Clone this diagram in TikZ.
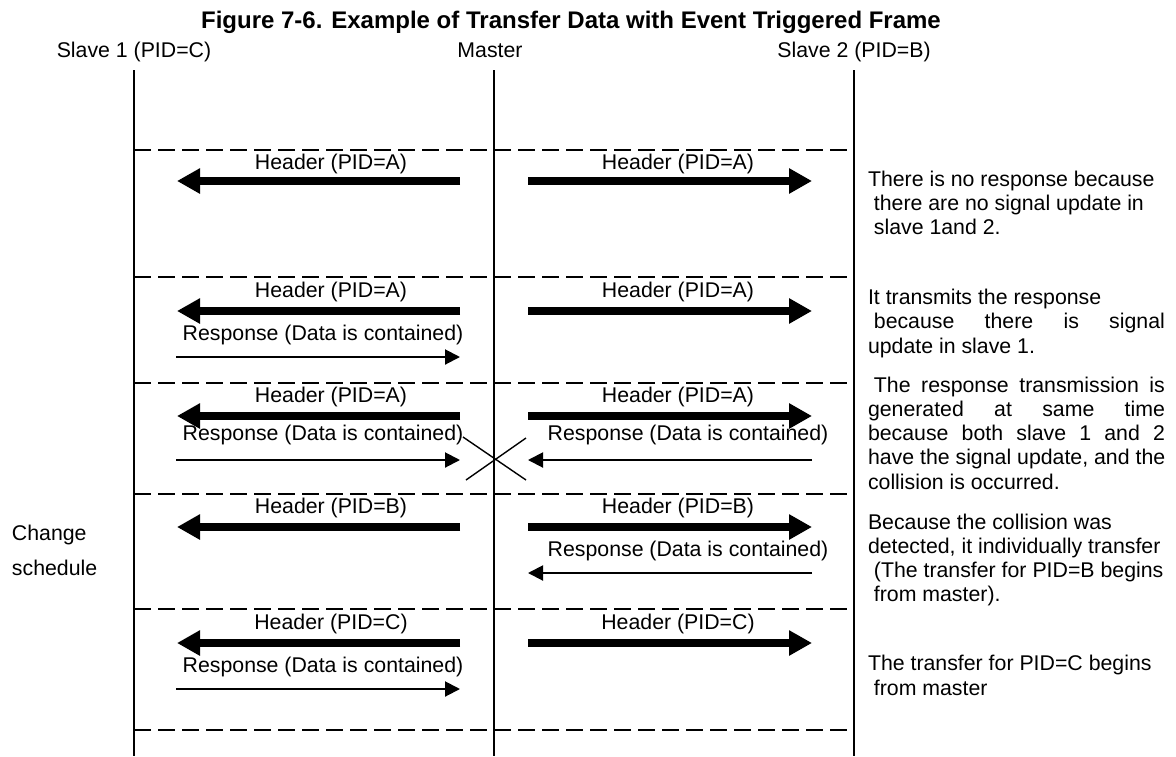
\documentclass[tikz,border=0pt]{standalone}
\usepackage{fontspec}
\setmainfont{Liberation Sans}
\usetikzlibrary{arrows.meta}
\newcommand{\jl}[1]{\makebox[297pt][s]{#1}}
\begin{document}
\begin{tikzpicture}[x=1pt,y=-1pt,
  every node/.style={inner sep=0pt, outer sep=0pt, font=\fontsize{21.3}{24.3}\selectfont},
  life/.style={line width=1.8pt},
  sepline/.style={line width=1.6pt, dash pattern=on 17pt off 7pt},
  hdr/.style={line width=8pt, -{Triangle[length=23pt,width=24pt]}},
  rsp/.style={line width=2pt, -{Triangle[length=15pt,width=15pt]}},
  xline/.style={line width=1.4pt},
  note/.style={anchor=base west, align=left}]
\useasboundingbox (0,0) rectangle (1176,756);
% title and lane labels
\node[anchor=base, font=\fontsize{24}{26}\selectfont\bfseries] (title) at (571,28) {Figure 7-6. Example of Transfer Data with Event Triggered Frame};
\node[anchor=base] (s1) at (134,57) {Slave 1 (PID=C)};
\node[anchor=base] (m) at (490,57) {Master};
\node[anchor=base] (s2) at (854,57) {Slave 2 (PID=B)};
% lifelines
\coordinate (s1t) at (134,70); \coordinate (s1b) at (134,756);
\coordinate (mt) at (494,70);  \coordinate (mb) at (494,756);
\coordinate (s2t) at (854,70); \coordinate (s2b) at (854,756);
\draw[life] (s1t) -- (s1b);
\draw[life] (mt) -- (mb);
\draw[life] (s2t) -- (s2b);
% separators
\foreach \y/\n in {150/a,277/b,383/c,494/d,609/e,730/f}{
  \coordinate (d\n l) at (134,\y); \coordinate (d\n r) at (854,\y);
  \draw[sepline] (d\n l) -- (d\n r);
}
% section helper coordinates
\foreach \k/\y in {1/181,2/311,3/416,4/527,5/643}{
  \coordinate (hL\k s) at (460,\y); \coordinate (hL\k e) at (177,\y);
  \coordinate (hR\k s) at (528,\y); \coordinate (hR\k e) at (812,\y);
}
% Section 1
\node (t1a) at (331,164) {Header (PID=A)};
\node (t1b) at (678,164) {Header (PID=A)};
\draw[hdr] (hL1s) -- (hL1e);
\draw[hdr] (hR1s) -- (hR1e);
% Section 2
\node (t2a) at (331,292) {Header (PID=A)};
\node (t2b) at (678,292) {Header (PID=A)};
\draw[hdr] (hL2s) -- (hL2e);
\draw[hdr] (hR2s) -- (hR2e);
\node (r2a) at (323,335) {Response (Data is contained)};
\coordinate (r2s) at (176,357); \coordinate (r2e) at (460,357);
\draw[rsp] (r2s) -- (r2e);
% Section 3
\node (t3a) at (331,397) {Header (PID=A)};
\node (t3b) at (678,397) {Header (PID=A)};
\draw[hdr] (hL3s) -- (hL3e);
\draw[hdr] (hR3s) -- (hR3e);
\node (r3a) at (323,435) {Response (Data is contained)};
\node (r3b) at (688,435) {Response (Data is contained)};
\coordinate (r3s) at (176,460); \coordinate (r3e) at (460,460);
\coordinate (r3bs) at (812,460); \coordinate (r3be) at (528,460);
\draw[rsp] (r3s) -- (r3e);
\draw[rsp] (r3bs) -- (r3be);
\coordinate (x1) at (463,437); \coordinate (x2) at (526,480);
\coordinate (x3) at (466,480); \coordinate (x4) at (526,438);
\draw[xline] (x1) -- (x2);
\draw[xline] (x3) -- (x4);
% Section 4
\node (t4a) at (331,508) {Header (PID=B)};
\node (t4b) at (678,508) {Header (PID=B)};
\draw[hdr] (hL4s) -- (hL4e);
\draw[hdr] (hR4s) -- (hR4e);
\node (r4b) at (688,551) {Response (Data is contained)};
\coordinate (r4s) at (812,573); \coordinate (r4e) at (528,573);
\draw[rsp] (r4s) -- (r4e);
% Section 5
\node (t5a) at (331,624) {Header (PID=C)};
\node (t5b) at (678,624) {Header (PID=C)};
\draw[hdr] (hL5s) -- (hL5e);
\draw[hdr] (hR5s) -- (hR5e);
\node (r5a) at (323,667) {Response (Data is contained)};
\coordinate (r5s) at (176,689); \coordinate (r5e) at (460,689);
\draw[rsp] (r5s) -- (r5e);
% left label (anchor is the baseline of the last line)
\node[anchor=base west, align=left, font=\fontsize{21.3}{35}\selectfont] (cs) at (12,575) {Change\\schedule};
% right notes (anchor is the baseline of the last line)
\node[note] (n1) at (868,234.6) {There is no response because\\\hspace*{5.9pt}there are no signal update in\\\hspace*{5.9pt}slave 1and 2.};
\node[note] (n2) at (868,353) {It transmits the response\\\hspace*{5.9pt}\makebox[291pt][s]{because there is signal}\\update in slave 1.};
\node[note] (n3) at (868,489.2) {\hspace*{5.9pt}\makebox[291pt][s]{The response transmission is}\\\jl{generated at same time}\\\jl{because both slave 1 and 2}\\have the signal update, and the\\collision is occurred.};
\node[note] (n4) at (868,601.9) {Because the collision was\\detected, it individually transfer\\\hspace*{5.9pt}(The transfer for PID=B begins\\\hspace*{5.9pt}from master).};
\node[note] (n5) at (868,695) {The transfer for PID=C begins\\\hspace*{5.9pt}from master};
\end{tikzpicture}
\end{document}
